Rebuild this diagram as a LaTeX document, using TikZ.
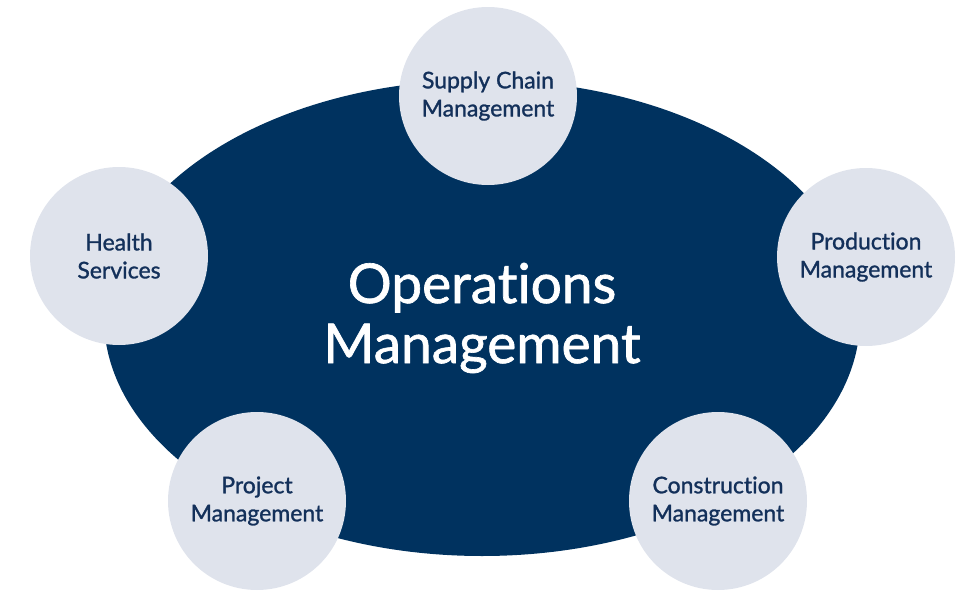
\documentclass[tikz,border=0pt]{standalone}
\usepackage{fontspec}
\setmainfont{Lato}[Ligatures=NoCommon]
\newfontfamily\opsfont{Lato}[Ligatures=NoCommon, FakeBold=1.2]
\usetikzlibrary{shapes.geometric}
\definecolor{opsnavy}{HTML}{00325F}
\definecolor{opsmist}{HTML}{DFE3EC}
\definecolor{opsink}{HTML}{13305A}
\begin{document}
\begin{tikzpicture}[x=1pt, y=-1pt,
    opsfield/.style={ellipse, fill=opsnavy, minimum width=756pt, minimum height=476pt,
      inner sep=0pt, text=white, align=center, font=\opsfont\fontsize{55}{60}\selectfont},
    area/.style={circle, fill=opsmist, minimum size=178pt, inner sep=0pt,
      text=opsink, align=center, font=\opsfont\fontsize{23}{28}\selectfont}]
  \useasboundingbox (0, 0) rectangle (975, 597);
    %%core
    \node[opsfield] (ops) at (482, 318) {Operations\\Management};
    %%areas
    \node[area] (supply) at (488, 96) {Supply Chain\\Management};
    \node[area] (health) at (119, 256) {Health\\Services};
    \node[area] (production) at (866, 257) {Production\\Management};
    \node[area] (project) at (257, 501) {Project\\Management};
    \node[area] (construction) at (718, 501) {Construction\\Management};
\end{tikzpicture}
\end{document}
